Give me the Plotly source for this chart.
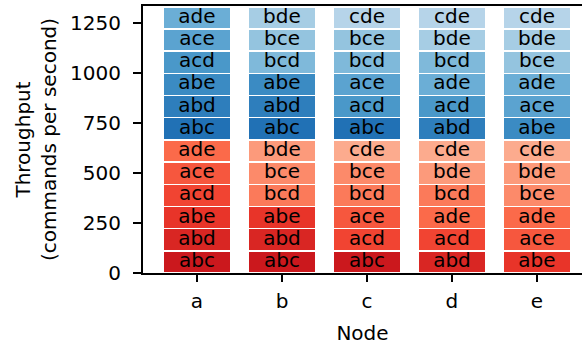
import plotly.graph_objects as go

nodes = ["a", "b", "c", "d", "e"]
# combinations per node, bottom to top (same order for red and blue halves)
node_combos = {
    "a": ["abc", "abd", "abe", "acd", "ace", "ade"],
    "b": ["abc", "abd", "abe", "bcd", "bce", "bde"],
    "c": ["abc", "acd", "ace", "bcd", "bce", "cde"],
    "d": ["abd", "acd", "ade", "bcd", "bde", "cde"],
    "e": ["abe", "ace", "ade", "bce", "bde", "cde"],
}
all_combos = ["abc", "abd", "abe", "acd", "ace", "ade", "bcd", "bce", "bde", "cde"]
red_values = {
    "a": [111, 111, 111, 111, 111, 111],
    "b": [111, 111, 111, 111, 111, 111],
    "c": [111, 111, 111, 111, 111, 111],
    "d": [111, 111, 111, 111, 111, 111],
    "e": [111, 111, 111, 111, 111, 111],
}
blue_values = {
    "a": [111, 111, 111, 111, 111, 111],
    "b": [111, 111, 111, 111, 111, 111],
    "c": [111, 111, 111, 111, 111, 111],
    "d": [111, 111, 111, 111, 111, 111],
    "e": [111, 111, 111, 111, 111, 111],
}
y_ticks = [0, 250, 500, 750, 1000, 1250]

FONT = "DejaVu Sans"
REDS = [(255,245,240),(254,224,210),(252,187,161),(252,146,114),(251,106,74),
        (239,59,44),(203,24,29),(165,15,21),(103,0,13)]
BLUES = [(247,251,255),(222,235,247),(198,219,239),(158,202,225),(107,174,214),
         (66,146,198),(33,113,181),(8,81,156),(8,48,107)]
shade = {c: 0.75 - 0.05 * i for i, c in enumerate(all_combos)}

def interp(scale, t):
    pos = t * (len(scale) - 1)
    i = min(int(pos), len(scale) - 2)
    f = pos - i
    a, b = scale[i], scale[i + 1]
    return "rgb(%d,%d,%d)" % tuple(round(a[k] + (b[k] - a[k]) * f) for k in range(3))

fig = go.Figure()
text_x, text_y, text_s = [], [], []
cum = {n: 0 for n in nodes}
for scale, vals in ((REDS, red_values), (BLUES, blue_values)):
    for lvl in range(6):
        ys = [vals[n][lvl] for n in nodes]
        labels = [node_combos[n][lvl] for n in nodes]
        colors = [interp(scale, shade[lab]) for lab in labels]
        fig.add_trace(go.Bar(
            x=nodes, y=ys, marker=dict(color=colors, line=dict(color="white", width=1.5)),
            width=0.8, showlegend=False, hoverinfo="skip",
        ))
        for n, v, lab in zip(nodes, ys, labels):
            text_x.append(n)
            text_y.append(cum[n] + v / 2)
            text_s.append(lab)
            cum[n] += v

fig.add_trace(go.Scatter(
    x=text_x, y=text_y, text=text_s, mode="text", textposition="middle center",
    textfont=dict(family=FONT, size=20, color="black"), showlegend=False, hoverinfo="skip",
))

fig.update_layout(
    barmode="stack", bargap=0.2,
    width=582, height=346,
    margin=dict(l=143, r=0, t=6, b=73),
    plot_bgcolor="white", paper_bgcolor="white",
    font=dict(family=FONT, size=20, color="black"),
)
fig.update_xaxes(
    range=[-0.635, 4.53], showline=True, linecolor="black", linewidth=2, mirror=True,
    ticks="outside", ticklen=7, tickwidth=1.5, tickcolor="black",
    showgrid=False, zeroline=False, automargin=False, ticklabelstandoff=2,
    title=dict(text="Node", font=dict(size=20), standoff=14),
    tickfont=dict(size=20),
)
fig.update_yaxes(
    range=[0, 1336], showline=True, linecolor="black", linewidth=2,
    ticks="outside", ticklen=8, tickwidth=1.5, tickcolor="black",
    tickvals=y_ticks, ticklabelstandoff=8,
    showgrid=False, zeroline=False, automargin=False,
    title=dict(text="Throughput<br>(commands per second)", font=dict(size=20), standoff=8),
    tickfont=dict(size=20),
)
fig.write_html("out.html", config={"displayModeBar": False},
               post_script="document.body.style.margin='0px';")
